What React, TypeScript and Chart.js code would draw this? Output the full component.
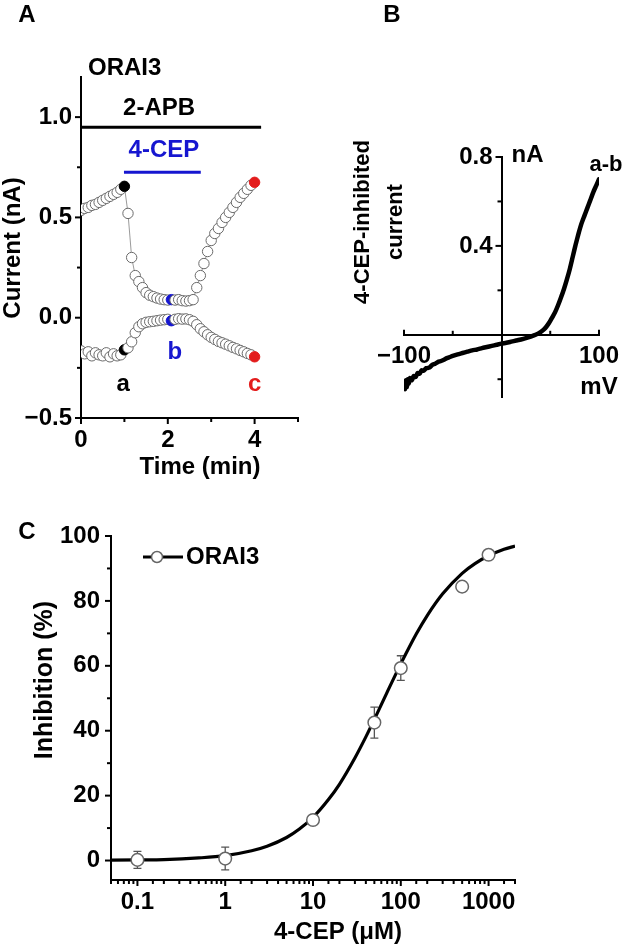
import React, { useEffect, useRef } from 'react';
import { Chart, registerables } from 'chart.js';

Chart.register(...registerables);

const FONT_FAMILY = '"Liberation Sans", Arial, Helvetica, sans-serif';
const BLUE = '#1616d0';
const RED = '#e31c1c';

// ---------- Panel A: time course ----------
const timeA = [0, 0.083, 0.167, 0.25, 0.333, 0.417, 0.5, 0.583, 0.667, 0.75, 0.833, 0.917, 1.0,
  1.083, 1.167, 1.25, 1.333, 1.417, 1.5, 1.583, 1.667, 1.75, 1.833, 1.917, 2.0,
  2.083, 2.167, 2.25, 2.333, 2.417, 2.5, 2.583, 2.667, 2.75, 2.833, 2.917, 3.0,
  3.083, 3.167, 3.25, 3.333, 3.417, 3.5, 3.583, 3.667, 3.75, 3.833, 3.917, 4.0];
const upperA = [0.535, 0.545, 0.55, 0.56, 0.565, 0.575, 0.585, 0.595, 0.605, 0.615, 0.625, 0.64, 0.655,
  0.52, 0.30, 0.21, 0.18, 0.15, 0.125, 0.112, 0.105, 0.098, 0.093, 0.09, 0.088,
  0.09, 0.088, 0.09, 0.085, 0.083, 0.085, 0.09, 0.15, 0.21, 0.27, 0.33, 0.385,
  0.42, 0.445, 0.475, 0.5, 0.525, 0.55, 0.575, 0.6, 0.62, 0.64, 0.66, 0.675];
const lowerA = [-0.165, -0.18, -0.17, -0.19, -0.175, -0.185, -0.19, -0.175, -0.195, -0.18, -0.19, -0.185, -0.16,
  -0.15, -0.12, -0.075, -0.045, -0.03, -0.023, -0.02, -0.018, -0.015, -0.012, -0.01, -0.008,
  -0.015, -0.008, -0.005, -0.007, -0.006, -0.01, -0.018, -0.035, -0.055, -0.07, -0.085, -0.098,
  -0.108, -0.118, -0.125, -0.132, -0.14, -0.148, -0.155, -0.163, -0.17, -0.178, -0.185, -0.195];
const markedIdxA = [12, 25, 48];
const markedColorsA = ['#000000', BLUE, RED];
const apbTimes = [0, 4.15];
const apbLevel = 0.95;
const cepTimes = [0.99, 2.76];
const cepLevel = 0.725;
const ticksAx = [0, 1, 2, 3, 4, 5];
const ticksAy = [-0.5, -0.25, 0, 0.25, 0.5, 0.75, 1.0];

// ---------- Panel B: I-V ----------
const ivVoltage = [-100, -99, -98, -97, -96, -95, -94, -92, -90, -88, -86, -84, -82, -80, -77, -74, -71, -68,
  -65, -62, -59, -56, -53, -50, -45, -40, -35, -30, -25, -20, -15, -10, -5, 0, 5, 10, 15, 20, 25, 30, 35,
  40, 43, 46, 49, 52, 55, 58, 61, 64, 67, 70, 73, 76, 79, 82, 85, 88, 91, 94, 97, 100];
const ivCurrent = [-0.215, -0.245, -0.205, -0.235, -0.2, -0.22, -0.195, -0.205, -0.185, -0.19, -0.172, -0.175,
  -0.16, -0.162, -0.15, -0.148, -0.135, -0.13, -0.122, -0.118, -0.112, -0.105, -0.1, -0.095, -0.088, -0.082,
  -0.076, -0.07, -0.066, -0.06, -0.055, -0.05, -0.045, -0.04, -0.036, -0.031, -0.026, -0.021, -0.015, -0.008,
  0.0, 0.012, 0.022, 0.036, 0.055, 0.078, 0.102, 0.133, 0.168, 0.205, 0.248, 0.295, 0.35, 0.405, 0.455, 0.5,
  0.535, 0.57, 0.605, 0.64, 0.67, 0.70];
const ticksBx = [-100, -50, 50, 100];
const ticksBy = [-0.2, 0.2, 0.4, 0.6, 0.8];
const labelsBx = [-100, 100];
const labelsBy = [0.4, 0.8];

// ---------- Panel C: dose response ----------
const concC = [0.1, 1, 10, 50, 100, 500, 1000];
const inhC = [0.2, 0.6, 12.5, 42.5, 59.3, 84.4, 94.2];
const semC = [2.6, 3.5, 1.2, 4.8, 3.8, 1.5, 1.2];
const fitConc = [0.05, 0.1, 0.2, 0.5, 1, 2, 3, 5, 7, 10, 15, 20, 30, 40, 50, 70, 100, 150, 200, 300, 500, 700, 1000, 1500, 2000];
const fitInh = [0.1, 0.2, 0.3, 0.8, 1.5, 3.0, 4.4, 7.1, 9.7, 13.3, 18.8, 23.5, 31.6, 38.1, 43.5, 51.9, 60.6, 69.8, 75.5, 82.2, 88.5, 91.5, 93.9, 95.9, 96.9];
const ticksCy = [0, 10, 20, 30, 40, 50, 60, 70, 80, 90, 100];
const labelsCx = [0.1, 1, 10, 100, 1000];

const tickFont = { family: FONT_FAMILY, size: 24, weight: 'bold' as const };

function txt(ctx: CanvasRenderingContext2D, s: string, x: number, y: number, size = 24, color = '#000',
  align: CanvasTextAlign = 'center', rot = 0) {
  ctx.save();
  ctx.font = `bold ${size}px ${FONT_FAMILY}`;
  ctx.fillStyle = color;
  ctx.textAlign = align;
  ctx.textBaseline = 'middle';
  ctx.translate(x, y);
  if (rot) ctx.rotate(rot);
  ctx.fillText(s, 0, 0);
  ctx.restore();
}

function marks(ctx: CanvasRenderingContext2D, scale: any, values: number[], isMajor: (v: number) => boolean,
  at: number, dir: number, majorLen: number, minorLen: number) {
  ctx.save();
  ctx.strokeStyle = '#000';
  ctx.lineWidth = 2;
  for (const v of values) {
    const p = scale.getPixelForValue(v);
    const len = isMajor(v) ? majorLen : minorLen;
    ctx.beginPath();
    if (scale.isHorizontal()) { ctx.moveTo(p, at); ctx.lineTo(p, at + dir * len); }
    else { ctx.moveTo(at, p); ctx.lineTo(at + dir * len, p); }
    ctx.stroke();
  }
  ctx.restore();
}

const near = (a: number, b: number) => Math.abs(a - b) < 1e-9;
const fmtSigned = (v: number, d: number) => (v < 0 ? '\u2212' : '') + Math.abs(v).toFixed(d);

function configA(): any {
  const markColor = (i: number) => {
    const k = markedIdxA.indexOf(i);
    return k >= 0 ? markedColorsA[k] : null;
  };
  const traceDs = (vals: number[]) => ({
    data: timeA.map((t, i) => ({ x: t, y: vals[i] })),
    showLine: true,
    borderColor: '#808080',
    borderWidth: 0.8,
    pointRadius: 5.2,
    pointBorderWidth: 1,
    pointBorderColor: (c: any) => markColor(c.dataIndex) ?? '#6a6a6a',
    pointBackgroundColor: (c: any) => markColor(c.dataIndex) ?? '#ffffff',
  });
  const decor = {
    id: 'decorA',
    afterDraw(chart: any) {
      const { ctx, scales: { x, y }, chartArea } = chart;
      marks(ctx, x, ticksAx, v => v % 2 === 0, chartArea.bottom, 1, 6, 4);
      marks(ctx, y, ticksAy, v => near(v * 2, Math.round(v * 2)), chartArea.left, -1, 6, 4);
      txt(ctx, 'A', 27, 15);
      txt(ctx, 'ORAI3', 88, 68, 24, '#000', 'left');
      txt(ctx, '2-APB', x.getPixelForValue(1.8), y.getPixelForValue(1.045));
      txt(ctx, '4-CEP', x.getPixelForValue(1.91), y.getPixelForValue(0.835), 24, BLUE);
      txt(ctx, 'a', x.getPixelForValue(0.97), y.getPixelForValue(-0.33));
      txt(ctx, 'b', x.getPixelForValue(2.16), y.getPixelForValue(-0.175), 24, BLUE);
      txt(ctx, 'c', x.getPixelForValue(4.0), y.getPixelForValue(-0.33), 24, RED);
      txt(ctx, 'Time (min)', 200, 467);
      txt(ctx, 'Current (nA)', 13, 248, 24, '#000', 'center', -Math.PI / 2);
    },
  };
  return {
    type: 'scatter',
    data: {
      datasets: [
        traceDs(upperA),
        traceDs(lowerA),
        { data: apbTimes.map(t => ({ x: t, y: apbLevel })), showLine: true, borderColor: '#000', borderWidth: 3, pointRadius: 0 },
        { data: cepTimes.map(t => ({ x: t, y: cepLevel })), showLine: true, borderColor: BLUE, borderWidth: 3, pointRadius: 0 },
      ],
    },
    options: {
      responsive: false,
      animation: false,
      layout: { padding: { left: 0, top: 77, right: 17, bottom: 0 } },
      plugins: { legend: { display: false }, tooltip: { enabled: false } },
      scales: {
        x: {
          type: 'linear', min: 0, max: 5,
          afterFit: (s: any) => { s.height = 72; },
          afterBuildTicks: (s: any) => { s.ticks = ticksAx.map(v => ({ value: v })); },
          border: { display: true, color: '#000', width: 2 },
          grid: { display: true, drawOnChartArea: false, drawTicks: false },
          ticks: {
            autoSkip: false, maxRotation: 0, padding: 8, color: '#000', font: tickFont,
            callback: (v: number) => (v % 2 === 0 && v < 5 ? String(v) : ''),
          },
        },
        y: {
          type: 'linear', min: -0.5, max: 1.2,
          afterFit: (s: any) => { s.width = 81; },
          afterBuildTicks: (s: any) => { s.ticks = ticksAy.map(v => ({ value: v })); },
          border: { display: true, color: '#000', width: 2 },
          grid: { display: true, drawOnChartArea: false, drawTicks: false },
          ticks: {
            autoSkip: false, padding: 9, color: '#000', font: tickFont,
            callback: (v: number) => (near(v * 2, Math.round(v * 2)) ? fmtSigned(v, 1) : ''),
          },
        },
      },
    },
    plugins: [decor],
  };
}

function configB(): any {
  const decor = {
    id: 'decorB',
    afterDraw(chart: any) {
      const { ctx, scales: { x, y } } = chart;
      const x0 = x.getPixelForValue(0);
      const y0 = y.getPixelForValue(0);
      marks(ctx, x, ticksBx, v => Math.abs(v) === 100, y0, -1, 5, 4);
      marks(ctx, y, ticksBy, v => labelsBy.includes(v), x0, -1, 6, 4);
      for (const v of labelsBy) txt(ctx, v.toFixed(1), x0 - 9, y.getPixelForValue(v), 24, '#000', 'right');
      for (const v of labelsBx) txt(ctx, fmtSigned(v, 0), x.getPixelForValue(v), y0 + 22);
      txt(ctx, 'nA', x0 + 10, y.getPixelForValue(0.8) - 2, 24, '#000', 'left');
      txt(ctx, 'mV', x.getPixelForValue(100), y0 + 53);
      txt(ctx, 'a-b', 291, 165, 22);
      txt(ctx, 'B', 77, 15);
      txt(ctx, '4-CEP-inhibited', 48, 222, 22, '#000', 'center', -Math.PI / 2);
      txt(ctx, 'current', 81, 222, 22, '#000', 'center', -Math.PI / 2);
    },
  };
  return {
    type: 'scatter',
    data: {
      datasets: [{
        data: ivVoltage.map((v, i) => ({ x: v, y: ivCurrent[i] })),
        showLine: true, borderColor: '#000', borderWidth: 4.5, pointRadius: 0,
        borderJoinStyle: 'round', borderCapStyle: 'round', tension: 0.2,
      }],
    },
    options: {
      responsive: false,
      animation: false,
      layout: { padding: { left: 89, top: 157, right: 31, bottom: 93 } },
      plugins: { legend: { display: false }, tooltip: { enabled: false } },
      scales: {
        x: {
          type: 'linear', min: -100, max: 100, position: { y: 0 },
          afterFit: (s: any) => { s.height = 0; },
          border: { display: true, color: '#000', width: 2 },
          grid: { display: false, drawTicks: false },
          ticks: { display: false },
        },
        y: {
          type: 'linear', min: -0.28, max: 0.8, position: { x: 0 },
          afterFit: (s: any) => { s.width = 0; },
          border: { display: true, color: '#000', width: 2 },
          grid: { display: false, drawTicks: false },
          ticks: { display: false },
        },
      },
    },
    plugins: [decor],
  };
}

function configC(): any {
  const isDecade = (v: number) => near(Math.log10(v), Math.round(Math.log10(v)));
  const errBars = {
    id: 'errC',
    beforeDatasetsDraw(chart: any) {
      const { ctx, scales: { x, y } } = chart;
      ctx.save();
      ctx.strokeStyle = '#555';
      ctx.lineWidth = 1.3;
      concC.forEach((c, i) => {
        const px = x.getPixelForValue(c);
        const t = y.getPixelForValue(inhC[i] + semC[i]);
        const b = y.getPixelForValue(inhC[i] - semC[i]);
        ctx.beginPath();
        ctx.moveTo(px, t); ctx.lineTo(px, b);
        ctx.moveTo(px - 4, t); ctx.lineTo(px + 4, t);
        ctx.moveTo(px - 4, b); ctx.lineTo(px + 4, b);
        ctx.stroke();
      });
      ctx.restore();
    },
    afterDraw(chart: any) {
      const { ctx, scales: { x, y }, chartArea } = chart;
      marks(ctx, x, x.ticks.map((t: any) => t.value), isDecade, chartArea.bottom, 1, 6, 4);
      marks(ctx, y, ticksCy, v => v % 20 === 0, chartArea.left, -1, 6, 4);
      // legend
      ctx.save();
      ctx.strokeStyle = '#000';
      ctx.lineWidth = 3;
      ctx.beginPath(); ctx.moveTo(143, 67); ctx.lineTo(183, 67); ctx.stroke();
      ctx.fillStyle = '#fff';
      ctx.strokeStyle = '#666';
      ctx.lineWidth = 1.5;
      ctx.beginPath(); ctx.arc(157, 67, 5.5, 0, Math.PI * 2); ctx.fill(); ctx.stroke();
      ctx.restore();
      txt(ctx, 'ORAI3', 186, 67, 24, '#000', 'left');
      txt(ctx, 'C', 27, 42);
      txt(ctx, '4-CEP (\u03bcM)', 338, 442);
      txt(ctx, 'Inhibition (%)', 45, 190, 25, '#000', 'center', -Math.PI / 2);
    },
  };
  return {
    type: 'scatter',
    data: {
      datasets: [
        {
          data: concC.map((c, i) => ({ x: c, y: inhC[i] })),
          showLine: false, pointRadius: 6.3, pointBorderWidth: 1.5,
          pointBorderColor: '#666', pointBackgroundColor: '#fff',
        },
        {
          data: fitConc.map((c, i) => ({ x: c, y: fitInh[i] })),
          showLine: true, borderColor: '#000', borderWidth: 3.2, pointRadius: 0,
          cubicInterpolationMode: 'monotone',
        },
      ],
    },
    options: {
      responsive: false,
      animation: false,
      layout: { padding: { left: 0, top: 46, right: 115, bottom: 0 } },
      plugins: { legend: { display: false }, tooltip: { enabled: false } },
      scales: {
        x: {
          type: 'logarithmic', min: 0.05, max: 2000,
          afterFit: (s: any) => { s.height = 70; },
          border: { display: true, color: '#000', width: 2 },
          grid: { display: true, drawOnChartArea: false, drawTicks: false },
          ticks: {
            autoSkip: false, maxRotation: 0, padding: 8, color: '#000', font: tickFont,
            callback: (v: number) => {
              const hit = labelsCx.find(l => Math.abs(Math.log10(v) - Math.log10(l)) < 1e-6);
              return hit === undefined ? '' : String(hit);
            },
          },
        },
        y: {
          type: 'linear', min: -6, max: 100,
          afterFit: (s: any) => { s.width = 111; },
          afterBuildTicks: (s: any) => { s.ticks = ticksCy.map(v => ({ value: v })); },
          border: { display: true, color: '#000', width: 2 },
          grid: { display: true, drawOnChartArea: false, drawTicks: false },
          ticks: {
            autoSkip: false, padding: 11, color: '#000', font: tickFont,
            callback: (v: number) => (v % 20 === 0 ? String(v) : ''),
          },
        },
      },
    },
    plugins: [errBars],
  };
}

export default function App() {
  const refA = useRef<HTMLCanvasElement>(null);
  const refB = useRef<HTMLCanvasElement>(null);
  const refC = useRef<HTMLCanvasElement>(null);
  useEffect(() => {
    const charts: Chart[] = [];
    if (refA.current) charts.push(new Chart(refA.current, configA()));
    if (refB.current) charts.push(new Chart(refB.current, configB()));
    if (refC.current) charts.push(new Chart(refC.current, configC()));
    return () => { charts.forEach(c => c.destroy()); };
  }, []);
  return (
    <div style={{ position: 'absolute', left: 0, top: 0, width: 630, height: 950, background: '#fff' }}>
      <canvas ref={refA} width={315} height={490} style={{ position: 'absolute', left: 0, top: 0 }} />
      <canvas ref={refB} width={315} height={490} style={{ position: 'absolute', left: 315, top: 0 }} />
      <canvas ref={refC} width={630} height={460} style={{ position: 'absolute', left: 0, top: 490 }} />
    </div>
  );
}
